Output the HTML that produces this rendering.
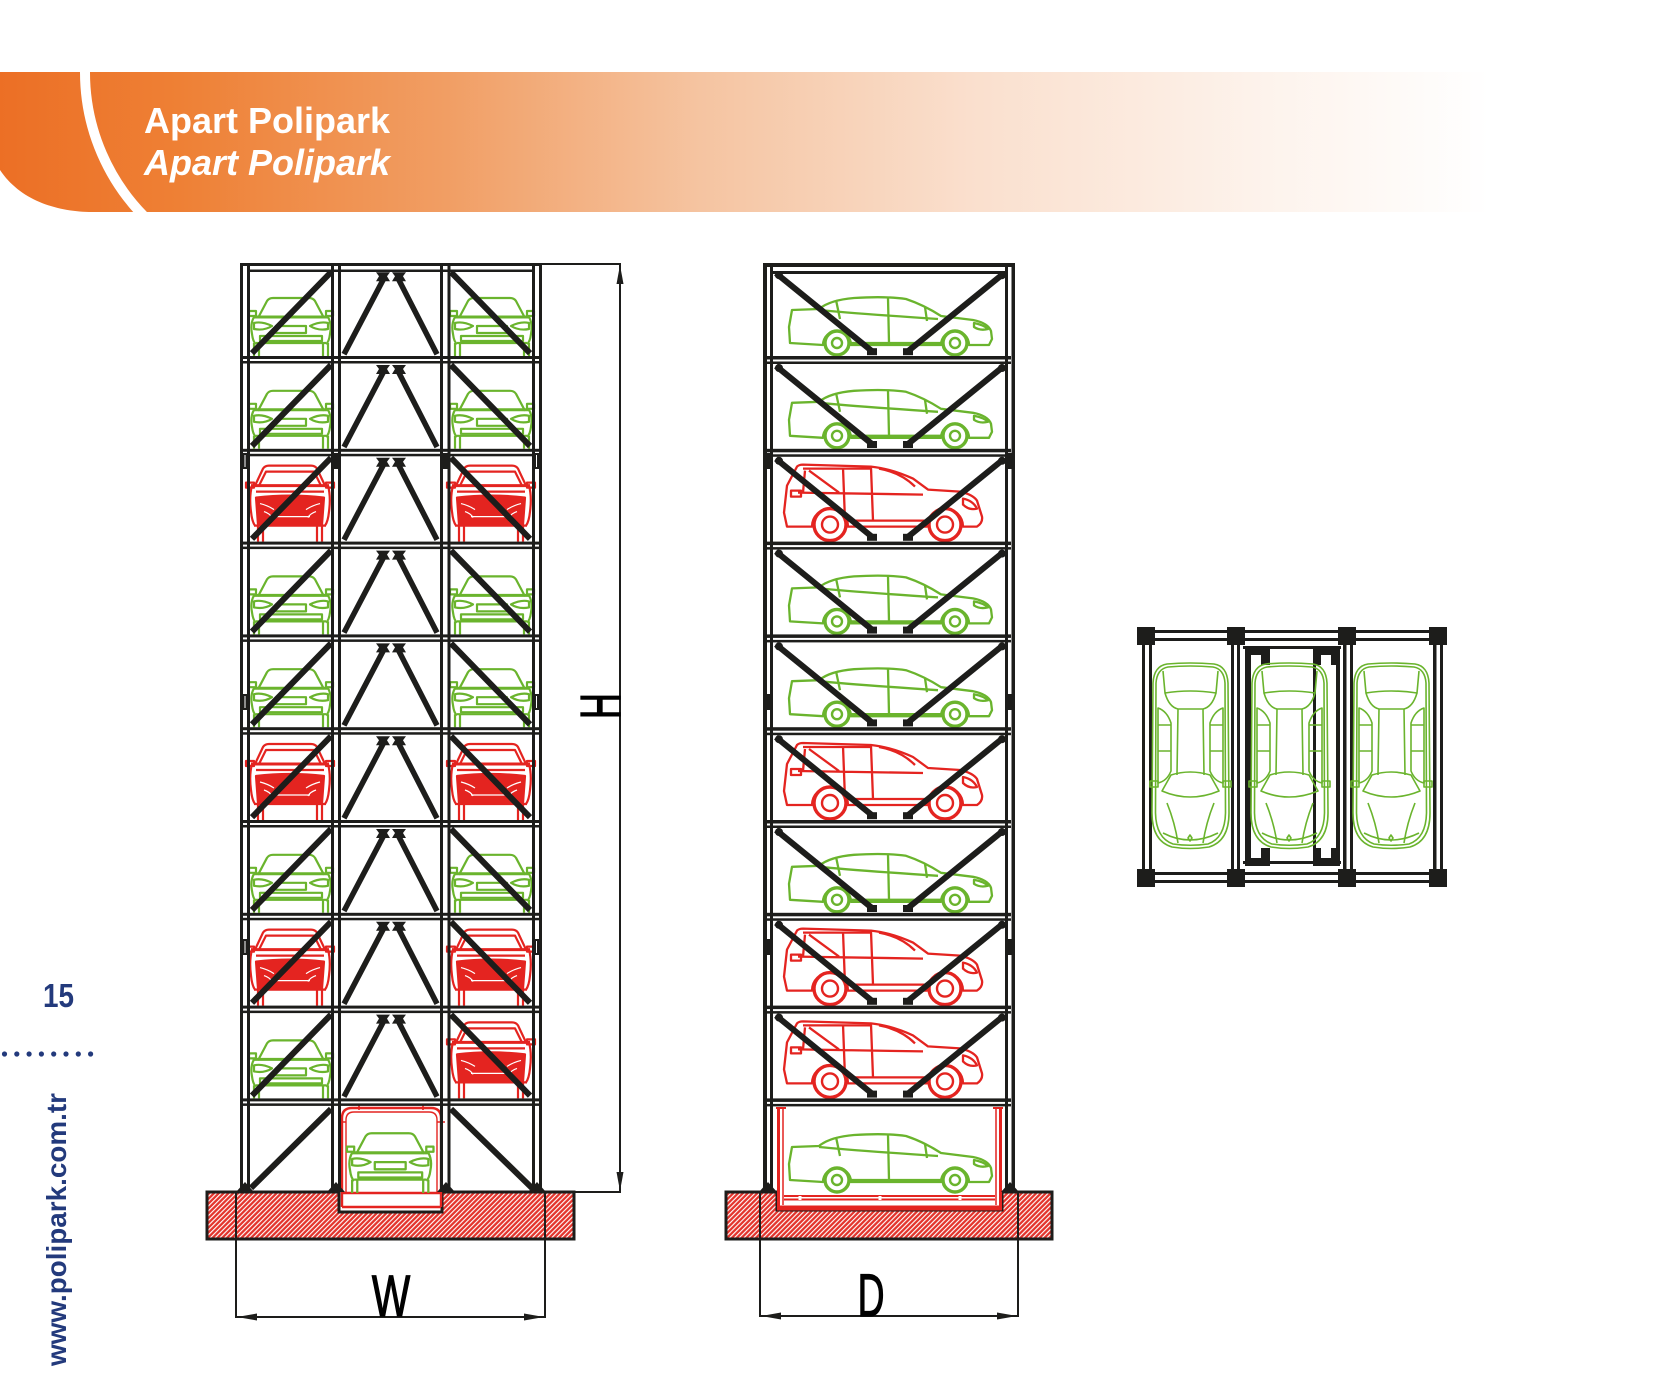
<!DOCTYPE html>
<html>
<head>
<meta charset="utf-8">
<style>
html,body{margin:0;padding:0;background:#fff;}
body{width:1654px;height:1373px;overflow:hidden;}
svg{display:block;}
</style>
</head>
<body>
<svg width="1654" height="1373" viewBox="0 0 1654 1373" xmlns="http://www.w3.org/2000/svg" font-family="'Liberation Sans', sans-serif">
<defs>
  <linearGradient id="bg" gradientUnits="userSpaceOnUse" x1="0" y1="0" x2="1490" y2="0">
    <stop offset="0" stop-color="#ec6f25"/>
    <stop offset="0.12" stop-color="#ee8035"/>
    <stop offset="0.3" stop-color="#f19e64"/>
    <stop offset="0.47" stop-color="#f5c4a1"/>
    <stop offset="0.65" stop-color="#fadfcd"/>
    <stop offset="0.85" stop-color="#fdf3ec"/>
    <stop offset="1" stop-color="#ffffff"/>
  </linearGradient>
  <clipPath id="bc"><path d="M0,72 H1490 V212 H89 C55,211 20,200 0,170 Z"/></clipPath>
  <pattern id="hatch" width="3.4" height="3.4" patternUnits="userSpaceOnUse" patternTransform="rotate(45)">
    <rect width="3.4" height="3.4" fill="#e3342c"/>
    <rect width="1.1" height="3.4" fill="#ffffff"/>
  </pattern>

  <!-- green front-view car -->
  <g id="fg" fill="none" stroke="#6ab42d" stroke-width="2.2" stroke-linejoin="round">
    <path d="M8,-38 L17,-55 Q19,-58 23,-58 L59,-58 Q63,-58 65,-55 L74,-38"/>
    <path d="M4,-39 L78,-39" stroke-width="3"/>
    <rect x="-1" y="-45" width="7" height="5"/>
    <rect x="76" y="-45" width="7" height="5"/>
    <path d="M4,-39 Q0,-32 2,-22 Q3,-14 6,-12 M78,-39 Q82,-32 80,-22 Q79,-14 76,-12"/>
    <path d="M4,-33 Q12,-35 22,-30 Q14,-25 4,-27 Z"/>
    <path d="M78,-33 Q70,-35 60,-30 Q68,-25 78,-27 Z"/>
    <rect x="26" y="-30" width="30" height="7"/>
    <rect x="10" y="-20" width="62" height="5"/>
    <path d="M6,-13 H76"/>
    <path d="M4,-13 V0 M9,-13 V0 M73,-13 V0 M78,-13 V0"/>
  </g>

  <!-- red front-view car -->
  <g id="fr" fill="none" stroke="#e42420" stroke-width="2.2" stroke-linejoin="round">
    <path d="M5,-56 L13,-73 Q15,-76 19,-76 L61,-76 Q65,-76 67,-73 L75,-56"/>
    <path d="M9,-56 L16,-70 H64 L71,-56"/>
    <path d="M1,-56 H79" stroke-width="3"/>
    <rect x="-4" y="-59" width="8" height="5"/>
    <rect x="76" y="-59" width="8" height="5"/>
    <path d="M2,-56 Q-1,-45 1,-30 Q2,-20 5,-16 M78,-56 Q81,-45 79,-30 Q78,-20 75,-16"/>
    <path d="M6,-50 H74"/>
    <path d="M6,-44 Q40,-48 74,-44 L72,-17 H8 Z" fill="#e42420"/>
    <path d="M10,-38 Q18,-36 24,-32 M70,-38 Q62,-36 56,-32 M20,-25 H60 M14,-30 Q20,-28 22,-24 M66,-30 Q60,-28 58,-24" stroke="#fff" stroke-width="1.2"/>
    <path d="M4,-16 H76"/>
    <path d="M8,-16 V0 M13,-16 V0 M67,-16 V0 M72,-16 V0"/>
  </g>

  <!-- green side sedan -->
  <g id="sg" fill="none" stroke="#6ab42d" stroke-width="2.3" stroke-linejoin="round">
    <path d="M2,46 L1,30 L4,13 L31,12 Q42,3 66,1 Q98,-1 118,2 Q136,8 153,19 L185,23 Q200,26 203,34 L204,42 L201,48 L181,48 A14,14 0 0 0 153,48 L63,48 A14,14 0 0 0 35,48 Z"/>
    <path d="M31,13 Q60,16 150,22"/>
    <path d="M48,3 L52,22 M100,1 L101,46 M137,10 L139,24 M63,46 H153"/>
    <path d="M186,26 Q196,28 200,32 Q192,34 186,30 Z"/>
    <circle cx="49" cy="46" r="12" stroke-width="3.4"/>
    <circle cx="49" cy="46" r="5" stroke-width="2.4"/>
    <circle cx="167" cy="46" r="12" stroke-width="3.4"/>
    <circle cx="167" cy="46" r="5" stroke-width="2.4"/>
  </g>

  <!-- red side SUV -->
  <g id="sr" fill="none" stroke="#e42420" stroke-width="2.3" stroke-linejoin="round">
    <path d="M4,62 L1,48 L4,21 L14,2 Q16,0 20,0 L88,2 Q108,4 130,14 L145,25 L177,27 Q190,30 194,36 L199,52 Q200,58 194,62 L180,62 A18,18 0 0 0 144,62 L65,62 A18,18 0 0 0 29,62 Z"/>
    <path d="M20,4 H88 M22,6 L20,28 M26,6 L56,28 M60,3 L62,56 M88,3 L90,56 M15,28 L140,30 M65,56 H144"/>
    <path d="M96,4 Q118,8 132,22"/>
    <rect x="8" y="26" width="10" height="6"/>
    <path d="M180,34 Q190,36 194,44 Q186,46 180,40 Z"/>
    <circle cx="47" cy="60" r="16" stroke-width="3.4"/>
    <circle cx="47" cy="60" r="8" stroke-width="2.4"/>
    <circle cx="162" cy="60" r="16" stroke-width="3.4"/>
    <circle cx="162" cy="60" r="8" stroke-width="2.4"/>
  </g>

  <!-- top view car -->
  <g id="tg" fill="none" stroke="#6ab42d" stroke-width="1.6" stroke-linejoin="round">
    <path d="M14,1 Q37,-1 61,1 Q74,3 75,20 L76,150 Q76,178 56,184 Q37,187 19,184 Q-1,178 -1,150 L0,20 Q1,3 14,1 Z"/>
    <path d="M15,4 Q37,2 60,4 Q71,6 72,20 L72.5,150 Q72,175 55,181 Q37,183.5 20,181 Q3,175 2.5,150 L3,20 Q4,6 15,4 Z"/>
    <path d="M10,8 L12,30 Q37,26 63,30 L65,8"/>
    <path d="M12,30 Q16,44 25,46 H50 Q59,44 63,30"/>
    <path d="M25,46 L24,112 M50,46 L51,112"/>
    <path d="M5,45 Q14,48 18,60 L18,108 Q14,118 5,120 Z"/>
    <path d="M70,45 Q61,48 57,60 L57,108 Q61,118 70,120 Z"/>
    <path d="M5,62 H18 M5,88 H18 M57,62 H70 M57,88 H70"/>
    <path d="M18,112 Q37,106 57,112 L66,128 Q37,140 9,128 Z"/>
    <path d="M-3,118 H5 V124 H-3 Z M78,118 H70 V124 H78 Z"/>
    <path d="M14,140 Q22,160 25,180 M61,140 Q53,160 50,180"/>
    <path d="M37,172 L39,175 L37,178 L35,175 Z"/>
    <path d="M10,170 Q37,184 65,170"/>
  </g>

  <!-- front tower row bracing -->
  <g id="fRow" stroke="#1d1d1b" fill="#1d1d1b">
    <line x1="331" y1="9" x2="252" y2="90" stroke-width="6"/>
    <line x1="451" y1="9" x2="530" y2="90" stroke-width="6"/>
    <line x1="384" y1="15" x2="344" y2="91" stroke-width="5.5"/>
    <line x1="398" y1="15" x2="437" y2="91" stroke-width="5.5"/>
    <path d="M376,9 H390 L387,13 L390,18 H376 L379,13 Z" stroke="none"/>
    <path d="M392,9 H406 L403,13 L406,18 H392 L395,13 Z" stroke="none"/>
  </g>

  <!-- side tower row bracing -->
  <g id="sRow" stroke="#1d1d1b" fill="#1d1d1b">
    <line x1="776" y1="10" x2="872" y2="88" stroke-width="6"/>
    <line x1="1004" y1="10" x2="908" y2="88" stroke-width="6"/>
    <rect x="867" y="85" width="10" height="7" stroke="none"/>
    <rect x="903" y="85" width="10" height="7" stroke="none"/>
    <circle cx="779" cy="12" r="4" stroke="none"/>
    <circle cx="1002" cy="12" r="4" stroke="none"/>
  </g>

  <g id="lvlF" fill="#1d1d1b">
    <rect x="243" y="0" width="296" height="3"/>
    <rect x="243" y="5" width="296" height="2.5"/>
  </g>
  <g id="lvlS" fill="#1d1d1b">
    <rect x="766" y="0" width="245" height="3.5"/>
    <rect x="766" y="5.5" width="245" height="2.5"/>
  </g>
</defs>

<!-- ===== Banner ===== -->
<path d="M0,72 H1490 V212 H89 C55,211 20,200 0,170 Z" fill="url(#bg)"/>
<path d="M85,40 L85,72 A205,205 0 0 0 150,222" fill="none" stroke="#fff" stroke-width="10" clip-path="url(#bc)"/>
<text x="144" y="133" font-size="36" font-weight="bold" fill="#fff">Apart Polipark</text>
<text x="144" y="175" font-size="36" font-weight="bold" font-style="italic" fill="#fff">Apart Polipark</text>

<!-- ===== Left gutter ===== -->
<text x="43" y="1007" font-size="33" font-weight="bold" fill="#233a7c" textLength="31" lengthAdjust="spacingAndGlyphs">15</text>
<g fill="#233a7c">
  <circle cx="4.5" cy="1054" r="2.6"/><circle cx="16.8" cy="1054" r="2.6"/><circle cx="29.1" cy="1054" r="2.6"/><circle cx="41.4" cy="1054" r="2.6"/>
  <circle cx="53.7" cy="1054" r="2.6"/><circle cx="66" cy="1054" r="2.6"/><circle cx="78.3" cy="1054" r="2.6"/><circle cx="90.6" cy="1054" r="2.6"/>
</g>
<text transform="translate(66,1366) rotate(-90)" font-size="28" font-weight="bold" fill="#233a7c" textLength="273" lengthAdjust="spacingAndGlyphs">www.polipark.com.tr</text>

<!-- ===== Front tower (W) ===== -->
<path d="M207,1192 H339 V1212 H442 V1192 H574 V1239 H207 Z" fill="url(#hatch)" stroke="#1d1d1b" stroke-width="3"/>
<g fill="none" stroke="#e42420" stroke-width="2.4">
  <path d="M342,1207 V1118 Q342,1108 352,1108 H431 Q441,1108 441,1118 V1207"/>
  <path d="M346,1192 V1120 Q346,1112 354,1112 H429 Q437,1112 437,1120 V1192" stroke-width="1.4"/>
  <path d="M342,1193 H441 M342,1207 H441"/>
  <path d="M359,1104 V1110 M423,1104 V1110 M338,1122 H346 M437,1122 H445" stroke-width="1.6"/>
</g>

<!-- front cars -->
<use href="#fg" x="250" y="356"/><use href="#fg" x="451" y="356"/>
<use href="#fg" x="250" y="448.8"/><use href="#fg" x="451" y="448.8"/>
<use href="#fr" x="250" y="541.6"/><use href="#fr" x="451" y="541.6"/>
<use href="#fg" x="250" y="634.4"/><use href="#fg" x="451" y="634.4"/>
<use href="#fg" x="250" y="727.2"/><use href="#fg" x="451" y="727.2"/>
<use href="#fr" x="250" y="820"/><use href="#fr" x="451" y="820"/>
<use href="#fg" x="250" y="912.8"/><use href="#fg" x="451" y="912.8"/>
<use href="#fr" x="250" y="1005.6"/><use href="#fr" x="451" y="1005.6"/>
<use href="#fg" x="250" y="1098.4"/><use href="#fr" x="451" y="1098.4"/>
<use href="#fg" transform="translate(348,1193) scale(1.03)"/>

<!-- front structure -->
<g fill="#1d1d1b">
  <rect x="240" y="263" width="302" height="3"/>
  <rect x="250" y="269.5" width="282" height="2.5"/>
</g>
<use href="#lvlF" y="356"/><use href="#lvlF" y="448.8"/><use href="#lvlF" y="541.6"/>
<use href="#lvlF" y="634.4"/><use href="#lvlF" y="727.2"/><use href="#lvlF" y="820"/>
<use href="#lvlF" y="912.8"/><use href="#lvlF" y="1005.6"/><use href="#lvlF" y="1098.4"/>

<use href="#fRow" y="263.2"/><use href="#fRow" y="356"/><use href="#fRow" y="448.8"/>
<use href="#fRow" y="541.6"/><use href="#fRow" y="634.4"/><use href="#fRow" y="727.2"/>
<use href="#fRow" y="820"/><use href="#fRow" y="912.8"/><use href="#fRow" y="1005.6"/>
<g stroke="#1d1d1b" stroke-width="6">
  <line x1="331" y1="1109" x2="251" y2="1188"/>
  <line x1="451" y1="1109" x2="532" y2="1188"/>
</g>
<g fill="#1d1d1b">
  <rect x="240" y="263" width="3" height="929"/><rect x="247" y="263" width="3" height="929"/>
  <rect x="331" y="263" width="3" height="929"/><rect x="338" y="263" width="3" height="929"/>
  <rect x="440" y="263" width="3" height="929"/><rect x="447.5" y="263" width="3" height="929"/>
  <rect x="532" y="263" width="3" height="929"/><rect x="539" y="263" width="3" height="929"/>
  <rect x="242" y="453" width="6" height="16"/><rect x="533" y="453" width="7" height="16"/>
  <rect x="333" y="453" width="6" height="16"/><rect x="442" y="453" width="6" height="16"/>
  <rect x="242" y="694" width="6" height="16"/><rect x="533" y="694" width="7" height="16"/>
  <rect x="242" y="939" width="6" height="16"/><rect x="533" y="939" width="7" height="16"/>
  <polygon points="236,1192 245,1182 254,1192"/>
  <polygon points="327,1192 336,1182 345,1192"/>
  <polygon points="437,1192 446,1182 455,1192"/>
  <polygon points="528,1192 537,1182 546,1192"/>
</g>
<g stroke="#fff" stroke-width="1">
  <line x1="245" y1="455" x2="245" y2="467"/><line x1="536.5" y1="455" x2="536.5" y2="467"/>
  <line x1="245" y1="696" x2="245" y2="708"/><line x1="536.5" y1="696" x2="536.5" y2="708"/>
  <line x1="245" y1="941" x2="245" y2="953"/><line x1="536.5" y1="941" x2="536.5" y2="953"/>
</g>

<!-- H dimension -->
<g stroke="#1d1d1b" stroke-width="2" fill="none">
  <line x1="542" y1="264" x2="621" y2="264"/>
  <line x1="574" y1="1192" x2="621" y2="1192"/>
  <line x1="620" y1="264" x2="620" y2="1192"/>
</g>
<polygon points="620,265 616.5,284 623.5,284" fill="#1d1d1b"/>
<polygon points="620,1191 616.5,1172 623.5,1172" fill="#1d1d1b"/>
<text transform="translate(620,706) rotate(-90) scale(0.63,1)" font-size="57" text-anchor="middle" fill="#000" stroke="#000" stroke-width="1.3">H</text>

<!-- W dimension -->
<g stroke="#1d1d1b" stroke-width="2" fill="none">
  <line x1="236" y1="1192" x2="236" y2="1318"/>
  <line x1="545" y1="1192" x2="545" y2="1318"/>
  <line x1="236" y1="1317" x2="545" y2="1317"/>
</g>
<polygon points="237,1317 257,1313.5 257,1320.5" fill="#1d1d1b"/>
<polygon points="544,1317 524,1313.5 524,1320.5" fill="#1d1d1b"/>
<text transform="translate(391,1316) scale(0.7,1)" font-size="58" text-anchor="middle" fill="#000" stroke="#000" stroke-width="1.3">W</text>

<!-- ===== Side tower (D) ===== -->
<path d="M726,1192 H777 V1210 H1002 V1192 H1052 V1239 H726 Z" fill="url(#hatch)" stroke="#1d1d1b" stroke-width="3"/>
<g fill="none" stroke="#e42420">
  <path d="M778.5,1108 V1210 M1000.5,1108 V1210" stroke-width="3"/>
  <path d="M783,1108 V1205 M996,1108 V1205" stroke-width="1.5"/>
  <path d="M784,1196 H995 M784,1199.5 H995" stroke-width="2"/>
  <path d="M777,1208 H1002" stroke-width="5"/>
  <path d="M776,1108 H786 M993,1108 H1003" stroke-width="2"/>
</g>
<g stroke="#fff" stroke-width="3">
  <line x1="800" y1="1196" x2="800" y2="1200"/><line x1="880" y1="1196" x2="880" y2="1200"/><line x1="960" y1="1196" x2="960" y2="1200"/>
</g>

<use href="#sg" x="788" y="297"/>
<use href="#sg" x="788" y="389.8"/>
<use href="#sr" x="783" y="464.6"/>
<use href="#sg" x="788" y="575.4"/>
<use href="#sg" x="788" y="668.2"/>
<use href="#sr" x="783" y="743"/>
<use href="#sg" x="788" y="853.8"/>
<use href="#sr" x="783" y="928.6"/>
<use href="#sr" x="783" y="1021.4"/>
<use href="#sg" x="788" y="1134"/>

<g fill="#1d1d1b">
  <rect x="763" y="263" width="252" height="4"/>
  <rect x="770" y="271" width="238" height="3"/>
</g>
<use href="#lvlS" y="356"/><use href="#lvlS" y="448.8"/><use href="#lvlS" y="541.6"/>
<use href="#lvlS" y="634.4"/><use href="#lvlS" y="727.2"/><use href="#lvlS" y="820"/>
<use href="#lvlS" y="912.8"/><use href="#lvlS" y="1005.6"/><use href="#lvlS" y="1098.4"/>
<use href="#sRow" y="263.2"/><use href="#sRow" y="356"/><use href="#sRow" y="448.8"/>
<use href="#sRow" y="541.6"/><use href="#sRow" y="634.4"/><use href="#sRow" y="727.2"/>
<use href="#sRow" y="820"/><use href="#sRow" y="912.8"/><use href="#sRow" y="1005.6"/>
<g fill="#1d1d1b">
  <rect x="763" y="263" width="4" height="929"/><rect x="770" y="263" width="3" height="929"/>
  <rect x="1005" y="263" width="3" height="929"/><rect x="1011.5" y="263" width="3.5" height="929"/>
  <rect x="763" y="453" width="9" height="16"/><rect x="1006" y="453" width="9" height="16"/>
  <rect x="763" y="694" width="9" height="16"/><rect x="1006" y="694" width="9" height="16"/>
  <rect x="763" y="939" width="9" height="16"/><rect x="1006" y="939" width="9" height="16"/>
  <polygon points="759,1192 768,1182 777,1192"/>
  <polygon points="1001,1192 1010,1182 1019,1192"/>
</g>

<!-- D dimension -->
<g stroke="#1d1d1b" stroke-width="2" fill="none">
  <line x1="760" y1="1192" x2="760" y2="1317"/>
  <line x1="1018" y1="1192" x2="1018" y2="1317"/>
  <line x1="760" y1="1316" x2="1018" y2="1316"/>
</g>
<polygon points="761,1316 781,1312.5 781,1319.5" fill="#1d1d1b"/>
<polygon points="1017,1316 997,1312.5 997,1319.5" fill="#1d1d1b"/>
<text transform="translate(871,1316) scale(0.62,1)" font-size="60" text-anchor="middle" fill="#000" stroke="#000" stroke-width="1.3">D</text>

<!-- ===== Plan view ===== -->
<g fill="#1d1d1b">
  <rect x="1150" y="630" width="290" height="3"/>
  <rect x="1150" y="638" width="290" height="3"/>
  <rect x="1150" y="872" width="290" height="3"/>
  <rect x="1150" y="880" width="290" height="3"/>
  <rect x="1142" y="640" width="3" height="235"/><rect x="1149" y="640" width="3" height="235"/>
  <rect x="1231" y="640" width="3" height="235"/><rect x="1237" y="640" width="3" height="235"/>
  <rect x="1343" y="640" width="3.5" height="235"/><rect x="1350" y="640" width="3" height="235"/>
  <rect x="1433" y="640" width="3.5" height="235"/><rect x="1440" y="640" width="3" height="235"/>
  <rect x="1243" y="646" width="98" height="3"/>
  <rect x="1243" y="861" width="98" height="3"/>
  <rect x="1245" y="646" width="6" height="220"/>
  <rect x="1336" y="646" width="4" height="220"/>
  <rect x="1313" y="646" width="3" height="220"/>
  <rect x="1245" y="647" width="25" height="18"/>
  <rect x="1245" y="848" width="25" height="18"/>
  <rect x="1313" y="647" width="24" height="18"/>
  <rect x="1313" y="848" width="24" height="18"/>
  <rect x="1137" y="627" width="18" height="18"/><rect x="1227" y="627" width="18" height="18"/>
  <rect x="1338" y="627" width="18" height="18"/><rect x="1429" y="627" width="18" height="18"/>
  <rect x="1137" y="869" width="18" height="18"/><rect x="1227" y="869" width="18" height="18"/>
  <rect x="1338" y="869" width="18" height="18"/><rect x="1429" y="869" width="18" height="18"/>
</g>
<g fill="#fff">
  <rect x="1251" y="655" width="10" height="10"/>
  <rect x="1251" y="848" width="10" height="10"/>
  <rect x="1321" y="655" width="10" height="10"/>
  <rect x="1321" y="848" width="10" height="10"/>
  <rect x="1155" y="633" width="72" height="5"/>
  <rect x="1245" y="633" width="93" height="5"/>
  <rect x="1356" y="633" width="73" height="5"/>
  <rect x="1155" y="875" width="72" height="5"/>
  <rect x="1245" y="875" width="93" height="5"/>
  <rect x="1356" y="875" width="73" height="5"/>
</g>
<use href="#tg" x="1153" y="663"/>
<use href="#tg" x="1252" y="663"/>
<use href="#tg" x="1354" y="663"/>
</svg>
</body>
</html>
